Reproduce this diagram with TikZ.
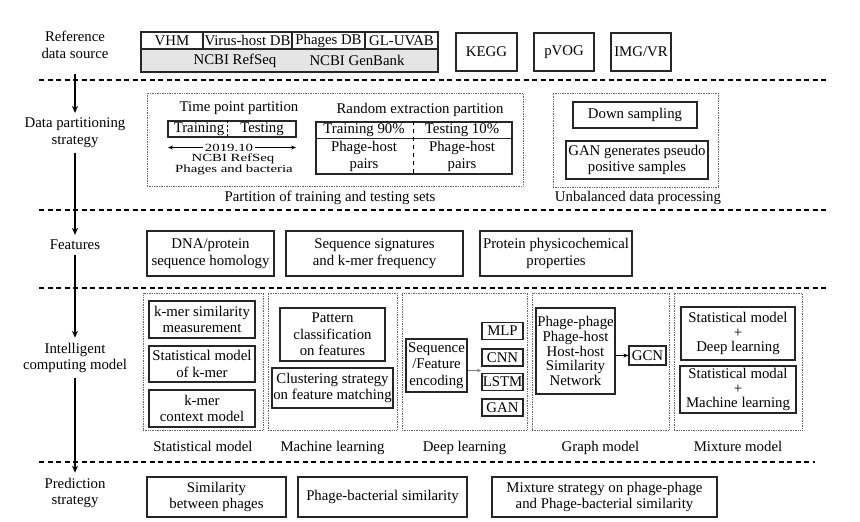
\documentclass[tikz,border=0pt]{standalone}
\usepackage{fontspec}
\setmainfont{Liberation Serif}
\usepackage{graphicx}
\usepackage{tikz}
\usetikzlibrary{arrows.meta, positioning}
\newcommand{\mainfs}{\fontsize{14.8}{16.7}\selectfont}
\newcommand{\squash}[1]{\scalebox{1}[0.74]{#1}}
\tikzset{
  box/.style={rectangle,draw=black!85,line width=1.1pt,inner sep=1pt,
    align=center,font=\mainfs},
  cell/.style={box,inner sep=0pt},
  group/.style={rectangle,draw=black!60,densely dotted,line width=0.7pt},
  stage/.style={align=center,font=\mainfs,inner sep=5pt},
  txt/.style={align=center,font=\mainfs,inner sep=1pt},
  sepline/.style={line width=1.2pt,dash pattern=on 5pt off 3.5pt},
  divider/.style={line width=0.7pt,dash pattern=on 4pt off 4pt},
  arrow/.style={-{Stealth[length=7pt,width=6pt]},line width=1.5pt},
  thinarrow/.style={-{Stealth[length=5pt,width=4pt]},line width=0.9pt},
  grayarrow/.style={-{Stealth[length=4pt,width=3.5pt]},line width=0.8pt,draw=black!50}
}

\begin{document}
\begin{tikzpicture}[x=1pt,y=-1pt]
  \useasboundingbox (0,0) rectangle (860,522);

  % stages on the left
  \node[stage] (src) at (75,45) {Reference\\ data source};
  \node[stage] (part) at (75,133) {Data partitioning\\ strategy};
  \node[stage] (feat) at (75,245) {Features};
  \node[stage] (icm) at (75,358) {Intelligent\\ computing model};
  \node[stage] (pred) at (75,493) {Prediction\\ strategy};

  \foreach \yy/\xe in {80/828,210/828,288/828,462/815}
    \draw[sepline] (39,\yy) -- (\xe,\yy);

  \draw[arrow,shorten <=10pt] (src) -- (part);
  \draw[arrow] (part) -- (feat);
  \draw[arrow] (feat) -- (icm);
  \draw[arrow] (icm) -- (pred);

  % reference data sources
  \node[cell, minimum width=62, minimum height=17] (vhm) at (172,40.5) {VHM};
  \node[cell, minimum width=89, minimum height=17] (vhdb) at (247.5,40.5) {Virus-host DB};
  \node[cell, minimum width=73, minimum height=17] (phdb) at (328.5,40.5) {Phages DB};
  \node[cell, minimum width=73, minimum height=17] (gl) at (401.5,40.5) {GL-UVAB};
  \node[cell, fill=black!10, minimum width=297, minimum height=23] (ncbi) at (289.5,60.5) {};
  \node[txt] (refseq) at (235,60.5) {NCBI RefSeq};
  \node[txt] (genbank) at (357,60.5) {NCBI GenBank};
  \node[box, minimum width=61, minimum height=38] (kegg) at (486.5,52) {KEGG};
  \node[box, minimum width=60, minimum height=38] (pvog) at (564,52) {pVOG};
  \node[box, minimum width=60, minimum height=38] (imgvr) at (641,52) {IMG/VR};

  % data partitioning
  \node[group, minimum width=376, minimum height=93] (gpart) at (335,139.5) {};
  \node[txt] (partcap) at (330,198) {Partition of training and testing sets};
  \node[txt] (tpp) at (239,108) {Time point partition};
  \node[cell, minimum width=128, minimum height=16] (tt) at (232,129) {};
  \draw[divider,line width=0.6pt,dash pattern=on 2.5pt off 2pt]
    ([xshift=-5pt]tt.north) -- ([xshift=-5pt]tt.south);
  \node[txt] (trn) at (199,129) {Training};
  \node[txt] (tst) at (262,129) {Testing};
  \node[txt, inner sep=2pt] (date) at (229,147.5) {\squash{2019.10}};
  \coordinate (tl) at (168,147.5);
  \coordinate (tr) at (296,147.5);
  \draw[thinarrow] (date) -- (tl);
  \draw[thinarrow] (date) -- (tr);
  \node[txt, inner sep=0pt] (tpsrc1) at (233,158.5) {\squash{NCBI RefSeq}};
  \node[txt, inner sep=0pt] (tpsrc2) at (234,169.5) {\squash{Phages and bacteria}};

  \node[txt] (rep) at (420,110) {Random extraction partition};
  \node[cell, minimum width=196, minimum height=52] (rt) at (414,148) {};
  \draw[line width=1.1pt,draw=black!85]
    ([yshift=-17pt]rt.north west) -- ([yshift=-17pt]rt.north east);
  \draw[divider] ([xshift=-1pt]rt.north) -- ([xshift=-1pt]rt.south);
  \node[txt] (rtrn) at (364,130.5) {Training 90\%};
  \node[txt] (rtst) at (462,130.5) {Testing 10\%};
  \node[txt] (rp1) at (364,156.5) {Phage-host\\ pairs};
  \node[txt] (rp2) at (462,156.5) {Phage-host\\ pairs};

  \node[group, minimum width=165, minimum height=94] (gunb) at (635.5,140) {};
  \node[txt] (unbcap) at (638,198) {Unbalanced data processing};
  \node[box, minimum width=124, minimum height=26] (down) at (635,115) {Down sampling};
  \node[box, minimum width=142, minimum height=38] (gan1) at (637,160)
    {GAN generates pseudo\\ positive samples};

  % features
  \node[box, minimum width=127, minimum height=45] (dna) at (210.5,253.5)
    {DNA/protein\\ sequence homology};
  \node[box, minimum width=177, minimum height=45] (sig) at (374.5,253.5)
    {Sequence signatures\\ and k-mer frequency};
  \node[box, minimum width=152, minimum height=45] (phys) at (556,253.5)
    {Protein physicochemical\\ properties};

  % intelligent computing model
  \node[group, minimum width=120, minimum height=137] (gs) at (203,361.5) {};
  \node[group, minimum width=129, minimum height=137] (gm) at (332.5,361.5) {};
  \node[group, minimum width=125, minimum height=137] (gd) at (464.5,361.5) {};
  \node[group, minimum width=137, minimum height=137] (gg) at (600.5,361.5) {};
  \node[group, minimum width=128, minimum height=137] (gx) at (738,361.5) {};
  \node[txt, below=10pt of gs] (gscap) {Statistical model};
  \node[txt, below=10pt of gm] (gmcap) {Machine learning};
  \node[txt, below=10pt of gd] (gdcap) {Deep learning};
  \node[txt, below=10pt of gg] (ggcap) {Graph model};
  \node[txt, below=10pt of gx] (gxcap) {Mixture model};

  \node[box, minimum width=106, minimum height=37] (s1) at (202,319.5)
    {k-mer similarity\\ measurement};
  \node[box, minimum width=106, minimum height=36] (s2) at (202,364)
    {Statistical model\\ of k-mer};
  \node[box, minimum width=106, minimum height=37] (s3) at (202,408.5)
    {k-mer\\ context model};

  \node[box, minimum width=105, minimum height=53] (m1) at (332.5,334.5)
    {Pattern\\ classification\\ on features};
  \node[box, minimum width=121, minimum height=40] (m2) at (332.5,388)
    {Clustering strategy\\ on feature matching};

  \node[box, minimum width=61, minimum height=53] (enc) at (436.5,365.5)
    {Sequence\\ /Feature\\ encoding};
  \node[cell, minimum width=41, minimum height=17] (mlp) at (502.5,331) {MLP};
  \node[cell, minimum width=41, minimum height=17] (cnn) at (502.5,357.5) {CNN};
  \node[cell, minimum width=41, minimum height=17] (lstm) at (502.5,382) {LSTM};
  \node[cell, minimum width=41, minimum height=17] (gan2) at (502.5,407.5) {GAN};
  \coordinate (nets) at (481,370.5);
  \draw[grayarrow] ([yshift=-5pt]enc.east) -- (nets);

  \node[box, font=\fontsize{14.8}{14.6}\selectfont, minimum width=79, minimum height=86]
    (net) at (575.5,351)
    {Phage-phage\\ Phage-host\\ Host-host\\ Similarity\\ Network};
  \node[box, minimum width=37, minimum height=19] (gcn) at (647.5,355.5) {GCN};
  \draw[thinarrow,line width=1.1pt] (net.east |- gcn) -- (gcn);

  \node[box, font=\fontsize{14.8}{14.5}\selectfont, minimum width=114, minimum height=53]
    (x1) at (738,333.5) {Statistical model\\ +\\ Deep learning};
  \node[box, font=\fontsize{14.8}{14.2}\selectfont, minimum width=116, minimum height=47]
    (x2) at (738,389.5) {Statistical modal\\ +\\ Machine learning};

  % prediction strategy
  \node[box, minimum width=139, minimum height=40] (p1) at (216.5,497)
    {Similarity\\ between phages};
  \node[box, minimum width=169, minimum height=40] (p2) at (382.5,497)
    {Phage-bacterial similarity};
  \node[box, minimum width=225, minimum height=40] (p3) at (604.5,497)
    {Mixture strategy on phage-phage\\ and Phage-bacterial similarity};
\end{tikzpicture}
\end{document}
